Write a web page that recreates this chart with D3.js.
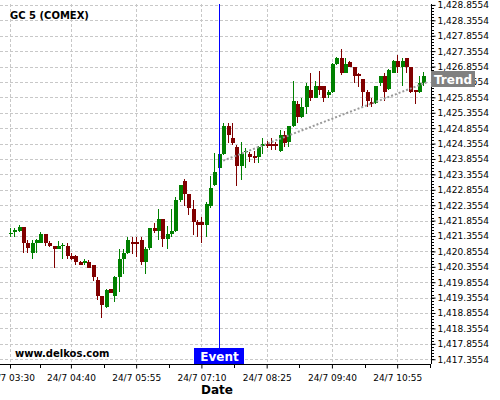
<!DOCTYPE html>
<html><head><meta charset="utf-8">
<script src="https://cdn.jsdelivr.net/npm/d3@7"></script>
<style>body{margin:0;background:#fff}svg{display:block}text{font-family:"DejaVu Sans",sans-serif}</style>
</head><body><svg id="c" width="500" height="400"></svg>
<script>
// ---- data (5-minute candles from 24/7 03:30) ----
const opens = [1421.42,1421.52,1421.52,1421.64,1421.14,1420.81,1421.14,1421.14,1421.42,1421.14,
1421.03,1420.94,1421.05,1421.03,1420.71,1420.70,1420.52,1420.51,1420.52,1420.41,
1419.93,1419.41,1419.04,1419.62,1419.41,1420.01,1420.60,1420.81,1421.16,1421.16,
1421.22,1420.52,1420.95,1421.62,1421.52,1421.90,1421.25,1421.42,1421.52,1422.52,
1423.15,1422.72,1422.22,1421.82,1421.82,1421.71,1422.33,1423.01,1423.55,1424.01,
1424.92,1424.52,1424.23,1423.62,1424.09,1424.01,1423.95,1423.93,1424.27,1424.34,
1424.34,1424.34,1424.12,1424.63,1424.40,1424.92,1425.63,1425.22,1425.55,1426.11,
1425.85,1426.22,1426.22,1425.93,1426.03,1426.93,1427.12,1426.65,1427.01,1426.83,
1426.60,1426.44,1426.03,1425.70,1425.66,1426.31,1426.54,1426.14,1426.65,1427.03,
1426.85,1427.12,1426.85,1426.11,1426.03,1426.33];
const highs = [1421.61,1421.61,1421.71,1421.64,1421.22,1421.22,1421.26,1421.49,1421.42,1421.20,
1421.03,1421.20,1421.14,1421.12,1420.80,1420.74,1420.53,1420.60,1420.57,1420.41,
1420.01,1419.41,1419.62,1419.63,1420.06,1420.92,1420.92,1421.31,1421.33,1421.31,
1421.31,1421.01,1421.63,1421.78,1422.22,1421.90,1421.68,1422.22,1422.63,1423.01,
1423.22,1422.72,1422.52,1421.87,1421.96,1422.47,1423.30,1424.04,1424.06,1425.03,
1425.03,1425.03,1424.31,1424.41,1424.20,1424.09,1424.12,1424.27,1424.52,1424.44,
1424.52,1424.41,1424.79,1424.77,1424.92,1426.39,1425.74,1425.82,1426.31,1426.63,
1426.39,1426.72,1426.22,1426.11,1426.97,1427.17,1427.41,1427.12,1427.04,1426.83,
1426.65,1426.44,1426.11,1425.82,1426.22,1426.54,1426.63,1426.76,1427.06,1427.22,
1427.12,1427.12,1426.85,1426.11,1426.54,1426.68];
const lows = [1421.32,1421.32,1421.49,1420.80,1420.80,1420.61,1420.80,1421.12,1421.03,1421.01,
1420.31,1420.92,1420.60,1420.60,1420.57,1420.41,1420.40,1420.41,1420.31,1419.90,
1419.28,1418.68,1419.01,1419.50,1419.22,1419.55,1420.12,1420.77,1420.77,1420.68,
1420.41,1420.12,1420.90,1421.44,1421.22,1421.01,1420.92,1421.33,1421.49,1422.47,
1422.33,1422.03,1421.39,1421.33,1421.14,1421.31,1422.25,1422.97,1423.50,1423.98,
1424.36,1424.31,1422.97,1423.17,1423.55,1423.76,1423.71,1423.71,1424.01,1424.20,
1424.14,1424.14,1424.09,1424.25,1424.25,1424.88,1425.03,1425.20,1425.33,1425.74,
1425.82,1425.93,1425.71,1425.82,1426.00,1426.90,1426.58,1426.63,1426.83,1426.31,
1426.20,1425.55,1425.53,1425.53,1425.63,1426.22,1425.74,1426.09,1426.63,1426.63,
1426.22,1426.63,1426.00,1425.63,1426.00,1426.22];
const closes = [1421.46,1421.55,1421.64,1421.14,1420.95,1421.14,1421.22,1421.42,1421.14,1421.03,
1420.94,1421.03,1421.07,1420.71,1420.60,1420.52,1420.41,1420.54,1420.32,1420.03,
1419.41,1419.12,1419.60,1419.51,1420.01,1420.60,1420.81,1421.22,1421.12,1421.13,
1420.52,1420.92,1421.60,1421.52,1421.90,1421.25,1421.42,1421.52,1422.52,1423.01,
1422.72,1422.25,1421.82,1421.71,1421.71,1422.41,1422.90,1423.44,1424.01,1424.92,
1424.63,1424.36,1423.62,1424.01,1424.12,1423.93,1423.93,1424.23,1424.34,1424.27,
1424.27,1424.27,1424.63,1424.36,1424.92,1425.73,1425.22,1425.55,1426.22,1425.85,
1426.22,1426.11,1425.85,1426.03,1426.93,1427.12,1426.65,1426.93,1426.85,1426.54,
1426.55,1426.03,1425.74,1425.66,1426.22,1426.54,1426.03,1426.74,1427.03,1426.85,
1427.03,1426.85,1426.03,1426.03,1426.33,1426.54];
const xTickIndex = [0,14,29,44,59,74,89];
const xTickLabels = ["24/7 03:30","24/7 04:40","24/7 05:55","24/7 07:10","24/7 08:25","24/7 09:40","24/7 10:55"];
const yTickValues = [1417.3554,1417.8554,1418.3554,1418.8554,1419.3554,1419.8554,1420.3554,1420.8554,
1421.3554,1421.8554,1422.3554,1422.8554,1423.3554,1423.8554,1424.3554,1424.8554,1425.3554,1425.8554,
1426.3554,1426.8554,1427.3554,1427.8554,1428.3554,1428.8554];
const eventIndex = 48;
const trendIndex = [49, 96];
const trendValues = [1423.80, 1426.355];
const title = "GC 5 (COMEX)";

// ---- layout ----
const svg = d3.select("#c");
const L = 0, R = 431, T = 4, B = 364;
const x = d3.scaleLinear().domain([-2.3, 96.78]).range([L, R]);
const y = d3.scaleLinear().domain([1417.201, 1428.885]).range([B, T]);
const fmt = d3.format(",.4f");

svg.append("rect").attr("width",500).attr("height",400).attr("fill","#fff");

// grid
const grid = svg.append("g").attr("stroke","#c8c8c8").attr("stroke-dasharray","3,2").attr("shape-rendering","crispEdges");
grid.selectAll("line.h").data(yTickValues).join("line").attr("class","h")
  .attr("x1",L).attr("x2",R).attr("y1",d=>Math.round(y(d))+0.5).attr("y2",d=>Math.round(y(d))+0.5);
grid.selectAll("line.v").data(xTickIndex).join("line").attr("class","v")
  .attr("x1",d=>Math.round(x(d))+0.5).attr("x2",d=>Math.round(x(d))+0.5).attr("y1",T).attr("y2",B);

// title
svg.append("text").attr("x",10).attr("y",19).attr("font-size",10).attr("font-weight","bold").attr("fill","#000").text(title);

// candles
const data = opens.map((o,i)=>({i,o,h:highs[i],l:lows[i],c:closes[i]}));
const G = "#008000", Rd = "#800000";
const cg = svg.append("g").attr("shape-rendering","crispEdges");
cg.selectAll("line").data(data).join("line")
  .attr("x1",d=>Math.round(x(d.i))+0.5).attr("x2",d=>Math.round(x(d.i))+0.5)
  .attr("y1",d=>y(d.h)).attr("y2",d=>y(d.l))
  .attr("stroke",d=>d.c>=d.o?G:Rd).attr("stroke-width",1);
cg.selectAll("rect").data(data).join("rect")
  .attr("x",d=>Math.round(x(d.i))-1.5).attr("width",4)
  .attr("y",d=>y(Math.max(d.o,d.c)))
  .attr("height",d=>Math.max(1.5, Math.abs(y(d.o)-y(d.c))))
  .attr("fill",d=>d.c>=d.o?G:Rd);

// trend line
svg.append("line")
  .attr("x1",x(trendIndex[0])).attr("y1",y(trendValues[0]))
  .attr("x2",x(trendIndex[1])).attr("y2",y(trendValues[1]))
  .attr("stroke","#9a9a9a").attr("stroke-width",2).attr("stroke-dasharray","2,2");

// event line
const ex = Math.round(x(eventIndex))+0.5;
svg.append("line").attr("x1",ex).attr("x2",ex).attr("y1",T).attr("y2",B)
  .attr("stroke","#0000ff").attr("stroke-width",1).attr("shape-rendering","crispEdges");

// watermark
svg.append("text").attr("x",15).attr("y",357).attr("font-size",10).attr("font-weight","bold").attr("fill","#000").text("www.delkos.com");

// axes
const yAxis = d3.axisRight(y).tickValues(yTickValues).tickFormat(fmt).tickSize(4).tickPadding(2);
const ya = svg.append("g").attr("transform",`translate(${R+0.5},0)`).call(yAxis);
ya.select(".domain").attr("d",`M0,${T}V${B}`);
ya.selectAll("text").attr("font-size",9).attr("font-family","DejaVu Sans").attr("fill","#000");
// minor y ticks
const minorY = d3.range(0,116).map(k=>1417.3554+0.1*k).filter(v=>y(v)>=T);
ya.selectAll("line.minor").data(minorY).join("line").attr("class","minor")
  .attr("x1",0).attr("x2",2).attr("y1",d=>Math.round(y(d))+0.5).attr("y2",d=>Math.round(y(d))+0.5)
  .attr("stroke","#000").attr("shape-rendering","crispEdges");

const xAxis = d3.axisBottom(x).tickValues(xTickIndex).tickFormat((d,k)=>xTickLabels[k]).tickSize(4).tickPadding(6);
const xa = svg.append("g").attr("transform",`translate(0,${B+0.5})`).call(xAxis);
xa.select(".domain").attr("d",`M${L},0H${R}`);
xa.selectAll("text").attr("font-size",9).attr("font-family","DejaVu Sans").attr("fill","#000");
const minorX = [7,21.5,36.5,51.5,66.5,81.5,96.5];
xa.selectAll("line.minor").data(minorX).join("line").attr("class","minor")
  .attr("x1",d=>Math.round(x(d))+0.5).attr("x2",d=>Math.round(x(d))+0.5).attr("y1",0).attr("y2",3)
  .attr("stroke","#000").attr("shape-rendering","crispEdges");

svg.append("text").attr("x",217).attr("y",394).attr("text-anchor","middle").attr("font-size",12)
  .attr("font-weight","bold").attr("fill","#000").text("Date");

// Event label
svg.append("rect").attr("x",ex-25.5).attr("y",348).attr("width",50).attr("height",16).attr("fill","#0000ff");
svg.append("text").attr("x",ex).attr("y",360.5).attr("text-anchor","middle").attr("font-size",12)
  .attr("font-weight","bold").attr("fill","#fff").text("Event");

// Trend label
const ty = y(trendValues[1]);
svg.append("rect").attr("x",431).attr("y",Math.round(ty)-11).attr("width",44).attr("height",16).attr("fill","#808080");
svg.append("text").attr("x",434).attr("y",Math.round(ty)+1.5).attr("font-size",12)
  .attr("font-weight","bold").attr("fill","#fff").text("Trend");
</script></body></html>
